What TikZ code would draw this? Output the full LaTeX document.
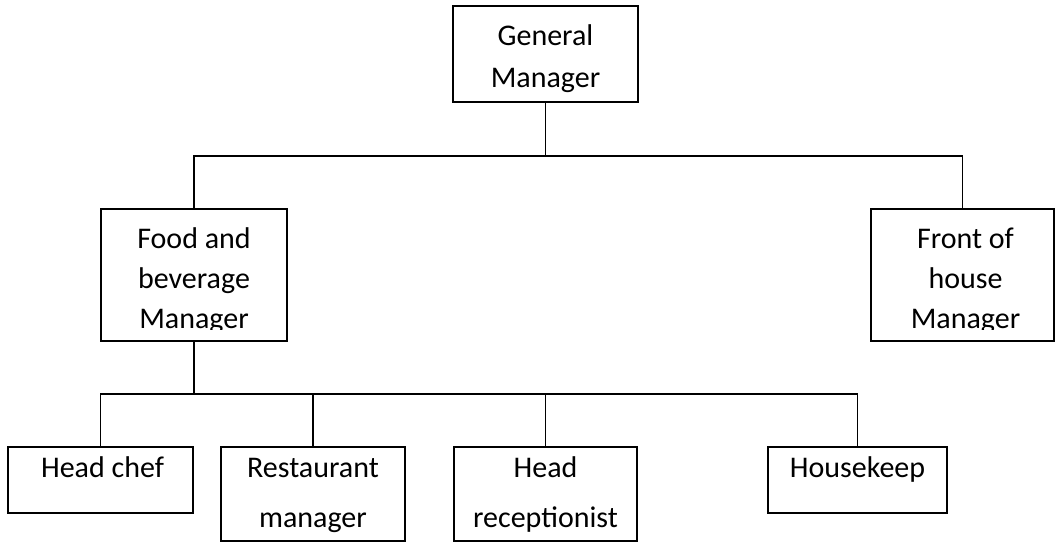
\documentclass[tikz,border=0pt]{standalone}
\usepackage{fontspec}
\setmainfont{Carlito}
\tikzset{
  every picture/.style={line join=miter, line width=1.5pt},
  box/.style={draw, rectangle, inner sep=0pt, outer sep=0pt, anchor=north west},
  lbl/.style={anchor=base, align=center, inner sep=0pt, font=\fontsize{30}{40}\selectfont},
  lowlbl/.style={lbl, font=\fontsize{30}{50}\selectfont},
}
\begin{document}
\begin{tikzpicture}[x=1pt,y=-1pt]
\useasboundingbox (0,0) rectangle (1062,542);
\coordinate (topbus) at (0,156);
\coordinate (lowbus) at (0,394);
% boxes
\node[box, minimum width=185pt, minimum height=96pt] (gm) at (453,6) {};
\node[box, minimum width=186pt, minimum height=132pt] (food) at (101,209) {};
\node[box, minimum width=183pt, minimum height=132pt] (front) at (871,209) {};
\node[box, minimum width=185pt, minimum height=66pt] (chef) at (8,447) {};
\node[box, minimum width=184pt, minimum height=94pt] (rest) at (221,447) {};
\node[box, minimum width=183pt, minimum height=94pt] (recep) at (454,447) {};
\node[box, minimum width=179pt, minimum height=66pt] (house) at (768,447) {};
% texts (base = last line)
\node[lbl, font=\fontsize{30}{42}\selectfont] (gmtext) at ([yshift=-81pt]gm.north) {General\\Manager};
\begin{scope}
\clip (0,0) rectangle (1062,329);
\node[lbl] (foodtext) at ([yshift=-119pt]food.north) {Food and\\beverage\\Manager};
\node[lbl] (fronttext) at ([xshift=3pt,yshift=-119pt]front.north) {Front of\\house\\Manager};
\end{scope}
\node[lowlbl] (cheftext) at ([xshift=2pt,yshift=-30pt]chef.north) {Head chef};
\node[lowlbl] (resttext) at ([yshift=-80pt]rest.north) {Restaurant\\manager};
\node[lowlbl] (receptext) at ([yshift=-80pt]recep.north) {Head\\receptionist};
\node[lowlbl] (housetext) at ([yshift=-30pt]house.north) {Housekeep};
% connectors
\draw (gm.south) -- (gm.south |- topbus);
\draw (food.north) -- (food.north |- topbus) -| (front.north);
\draw (food.south) -- (food.south |- lowbus);
\draw (chef.north) -- (chef.north |- lowbus) -| (house.north);
\foreach \n in {rest,recep}
  \draw (\n.north) -- (\n.north |- lowbus);
\end{tikzpicture}
\end{document}
